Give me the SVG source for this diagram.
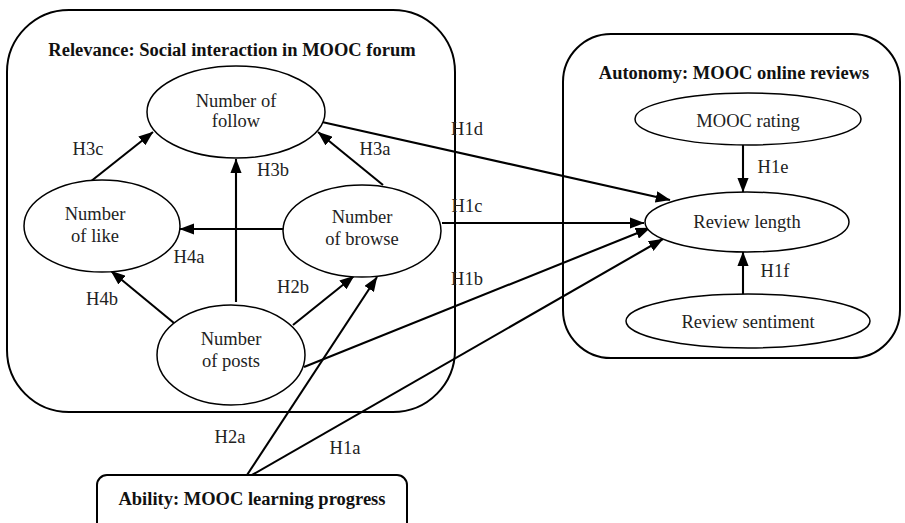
<svg xmlns="http://www.w3.org/2000/svg" width="905" height="523" viewBox="0 0 905 523">
<defs>
<style>
.box{fill:none;stroke:#000;stroke-width:2}
.ell{fill:#fff;stroke:#000;stroke-width:1.5}
.t{font-family:"Liberation Serif","Times New Roman",serif;font-size:18.5px;fill:#222;text-anchor:middle}
.b{font-weight:bold;fill:#111}
.e{stroke:#000;stroke-width:2.1;fill:none;marker-end:url(#ah)}
</style>
<marker id="ah" markerWidth="7" markerHeight="5.4" refX="6.8" refY="2.7" orient="auto" markerUnits="strokeWidth"><path d="M0,0 L7,2.7 L0,5.4 Z" fill="#000"/></marker>
</defs>
<rect width="905" height="523" fill="#fff"/>
<g id="relevance">
<rect class="box" x="7" y="10" width="448" height="402" rx="62" ry="62"/>
<text class="t b" x="232" y="56">Relevance: Social interaction in MOOC forum</text>
</g>
<g id="autonomy">
<rect class="box" x="563" y="34" width="337" height="324" rx="48" ry="48"/>
<text class="t b" x="734" y="79">Autonomy: MOOC online reviews</text>
</g>
<g id="ability">
<rect class="box" x="97" y="475" width="310" height="70" rx="10" ry="10"/>
<text class="t b" x="252" y="505">Ability: MOOC learning progress</text>
</g>
<g id="connectors">
<line class="e" x1="90" y1="182" x2="153" y2="132"/>
<line class="e" x1="236" y1="302" x2="236" y2="159"/>
<line class="e" x1="383" y1="185" x2="318" y2="132"/>
<line class="e" x1="283" y1="229" x2="180" y2="229"/>
<line class="e" x1="174" y1="323" x2="111" y2="271"/>
<line class="e" x1="293" y1="325" x2="354" y2="276"/>
<line class="e" x1="247" y1="475" x2="377" y2="277"/>
<line class="e" x1="252" y1="475" x2="663" y2="239"/>
<line class="e" x1="304" y1="367" x2="650" y2="228"/>
<line class="e" x1="442" y1="223" x2="644" y2="223"/>
<line class="e" x1="322" y1="122" x2="670" y2="200"/>
<line class="e" x1="743" y1="145" x2="743" y2="192"/>
<line class="e" x1="743" y1="295" x2="743" y2="252"/>
<text class="t" x="88" y="155">H3c</text>
<text class="t" x="273" y="176">H3b</text>
<text class="t" x="375" y="155">H3a</text>
<text class="t" x="189" y="263">H4a</text>
<text class="t" x="102" y="305">H4b</text>
<text class="t" x="293" y="293">H2b</text>
<text class="t" x="230" y="443">H2a</text>
<text class="t" x="345" y="454">H1a</text>
<text class="t" x="467" y="135">H1d</text>
<text class="t" x="467" y="212">H1c</text>
<text class="t" x="467" y="285">H1b</text>
<text class="t" x="773" y="173">H1e</text>
<text class="t" x="775" y="277">H1f</text>
</g>
<g id="follow">
<ellipse class="ell" cx="236" cy="112" rx="89" ry="46"/>
<text class="t" x="236" y="107">Number of</text>
<text class="t" x="236" y="127">follow</text>
</g>
<g id="like">
<ellipse class="ell" cx="102" cy="226" rx="78" ry="46"/>
<text class="t" x="95" y="220">Number</text>
<text class="t" x="95" y="242">of like</text>
</g>
<g id="browse">
<ellipse class="ell" cx="362" cy="231" rx="79" ry="46"/>
<text class="t" x="362" y="223">Number</text>
<text class="t" x="362" y="245">of browse</text>
</g>
<g id="posts">
<ellipse class="ell" cx="231" cy="355" rx="74" ry="50"/>
<text class="t" x="231" y="345">Number</text>
<text class="t" x="231" y="367">of posts</text>
</g>
<g id="rating">
<ellipse class="ell" cx="748" cy="119" rx="113" ry="26"/>
<text class="t" x="748" y="127">MOOC rating</text>
</g>
<g id="length">
<ellipse class="ell" cx="747" cy="222" rx="102" ry="30"/>
<text class="t" x="747" y="228">Review length</text>
</g>
<g id="sentiment">
<ellipse class="ell" cx="748" cy="321" rx="122" ry="27"/>
<text class="t" x="748" y="328">Review sentiment</text>
</g>
</svg>
